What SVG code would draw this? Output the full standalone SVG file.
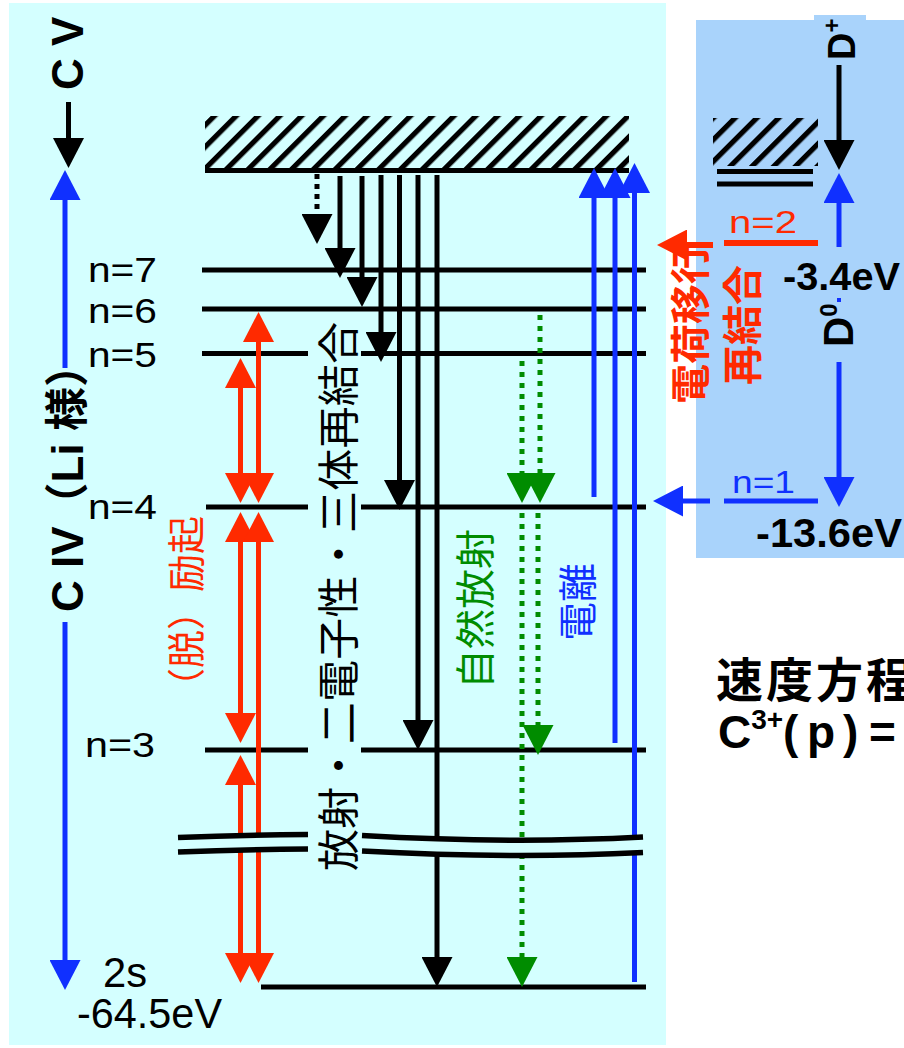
<svg xmlns="http://www.w3.org/2000/svg" width="904" height="1048" viewBox="0 0 904 1048">
<style>
.lv{stroke:#000;stroke-width:5;fill:none}
.brk{stroke:#000;stroke-width:5.5;fill:none}
.k{stroke:#000;stroke-width:5;fill:none;marker-end:url(#ahK)}
.kd{stroke:#000;stroke-width:5;fill:none;stroke-dasharray:5 5;marker-end:url(#ahK)}
.r2{stroke:#FF2A00;stroke-width:5;fill:none;marker-start:url(#ahR);marker-end:url(#ahR)}
.r{stroke:#FF2A00;stroke-width:6;fill:none;marker-end:url(#ahR)}
.b{stroke:#1030FF;stroke-width:5;fill:none;marker-end:url(#ahB)}
.g{stroke:#008C00;stroke-width:5;fill:none;stroke-dasharray:5 6;marker-end:url(#ahG)}
.t{font-family:"Liberation Sans",Arial,"Noto Sans CJK JP",sans-serif}
.j{font-family:"Noto Sans CJK JP","Liberation Sans",sans-serif}
.bd{font-weight:bold}
</style>
<defs>
<pattern id="hatch" width="15.4" height="15.4" patternUnits="userSpaceOnUse" patternTransform="rotate(45)">
<rect width="5.2" height="15.4" fill="#000"/>
</pattern>
<marker id="ahK" viewBox="0 0 30 31" refX="2" refY="15.5" markerWidth="30" markerHeight="31" markerUnits="userSpaceOnUse" orient="auto-start-reverse"><path d="M0,0 L30,15.5 L0,31 Z" fill="#000"/></marker>
<marker id="ahR" viewBox="0 0 30 31" refX="2" refY="15.5" markerWidth="30" markerHeight="31" markerUnits="userSpaceOnUse" orient="auto-start-reverse"><path d="M0,0 L30,15.5 L0,31 Z" fill="#FF2A00"/></marker>
<marker id="ahB" viewBox="0 0 30 31" refX="2" refY="15.5" markerWidth="30" markerHeight="31" markerUnits="userSpaceOnUse" orient="auto-start-reverse"><path d="M0,0 L30,15.5 L0,31 Z" fill="#1030FF"/></marker>
<marker id="ahG" viewBox="0 0 30 31" refX="2" refY="15.5" markerWidth="30" markerHeight="31" markerUnits="userSpaceOnUse" orient="auto-start-reverse"><path d="M0,0 L30,15.5 L0,31 Z" fill="#008C00"/></marker>
</defs>
<rect width="904" height="1048" fill="#fff"/>
<g id="panels">
<rect x="9" y="3" width="657" height="1042" fill="#D4FFFF"/>
<rect x="696" y="20" width="208" height="538" fill="#A9D3FB"/>
<rect x="814" y="15" width="52" height="6" fill="#A9D3FB"/>
</g>
<g id="continuum-CV">
<rect x="205" y="116" width="424" height="52" fill="url(#hatch)"/>
<line class="lv" x1="205" y1="170.5" x2="629" y2="170.5"/>
</g>
<g id="continuum-D">
<rect x="713" y="118" width="105" height="48" fill="url(#hatch)"/>
<line class="lv" x1="717" y1="171.5" x2="813" y2="171.5"/>
<line class="lv" x1="717" y1="184" x2="813" y2="184"/>
</g>
<g id="level-n7">
<line class="lv" x1="202" y1="270" x2="646" y2="270"/>
<text class="t" x="88" y="282" font-size="35" textLength="69" lengthAdjust="spacingAndGlyphs">n=7</text>
</g>
<g id="level-n6">
<line class="lv" x1="202" y1="309" x2="646" y2="309"/>
<text class="t" x="88" y="323" font-size="35" textLength="69" lengthAdjust="spacingAndGlyphs">n=6</text>
</g>
<g id="level-n5">
<line class="lv" x1="202" y1="353.5" x2="308" y2="353.5"/>
<line class="lv" x1="361" y1="353.5" x2="646" y2="353.5"/>
<text class="t" x="88" y="367" font-size="35" textLength="69" lengthAdjust="spacingAndGlyphs">n=5</text>
</g>
<g id="level-n4">
<line class="lv" x1="206" y1="507" x2="308" y2="507"/>
<line class="lv" x1="361" y1="507" x2="646" y2="507"/>
<text class="t" x="88" y="519" font-size="35" textLength="69" lengthAdjust="spacingAndGlyphs">n=4</text>
</g>
<g id="level-n3">
<line class="lv" x1="205" y1="750" x2="308" y2="750"/>
<line class="lv" x1="361" y1="750" x2="646" y2="750"/>
<text class="t" x="85" y="757" font-size="35" textLength="70" lengthAdjust="spacingAndGlyphs">n=3</text>
</g>
<g id="level-2s">
<line class="lv" x1="261" y1="987" x2="646" y2="987"/>
<text class="t" x="103" y="987" font-size="42" textLength="44" lengthAdjust="spacingAndGlyphs">2s</text>
<text class="t" x="77" y="1028" font-size="42" textLength="145" lengthAdjust="spacingAndGlyphs">-64.5eV</text>
</g>
<g id="connectors">
<line class="k" x1="68.5" y1="102" x2="68.5" y2="140"/>
<line class="b" x1="65" y1="368" x2="65" y2="198"/>
<line class="b" x1="65" y1="622" x2="65" y2="962"/>
<line class="kd" x1="317" y1="174" x2="317" y2="216"/>
<line class="k" x1="340" y1="176" x2="340" y2="250"/>
<line class="k" x1="362" y1="176" x2="362" y2="279"/>
<line class="k" x1="381" y1="175" x2="381" y2="334"/>
<line class="k" x1="399.5" y1="175" x2="399.5" y2="482"/>
<line class="k" x1="418" y1="175" x2="418" y2="722"/>
<line class="k" x1="437" y1="175" x2="437" y2="959"/>
<line class="r2" x1="240.5" y1="386" x2="240.5" y2="475"/>
<line class="r2" x1="258.5" y1="340" x2="258.5" y2="475"/>
<line class="r2" x1="240.5" y1="540" x2="240.5" y2="715"/>
<line class="r2" x1="258.5" y1="540" x2="258.5" y2="955"/>
<line class="r2" x1="240.5" y1="783" x2="240.5" y2="955"/>
<line class="g" x1="540" y1="315" x2="540" y2="475"/>
<line class="g" x1="522" y1="361" x2="522" y2="475"/>
<line class="g" x1="538" y1="513" x2="538" y2="727"/>
<line class="g" x1="522" y1="513" x2="522" y2="959"/>
<line class="b" x1="594" y1="497" x2="594" y2="196"/>
<line class="b" x1="615" y1="743" x2="615" y2="196"/>
<line class="b" x1="634.5" y1="982" x2="634.5" y2="191"/>
<line class="k" x1="839" y1="65" x2="839" y2="142"/>
<line class="b" x1="839" y1="247" x2="839" y2="201"/>
<line class="b" x1="839" y1="362" x2="839" y2="479"/>
<rect x="837" y="298" width="4" height="4" fill="#1030FF"/>
<line class="r" x1="713" y1="245" x2="685" y2="245"/>
<line class="b" x1="710" y1="501" x2="681" y2="501"/>
</g>
<g id="break">
<path d="M178,837.5 Q240,835 308,834.5 L308,849 Q240,849.5 178,852 Z" fill="#D4FFFF"/>
<path class="brk" d="M178,837.5 Q240,835 308,834.5"/>
<path class="brk" d="M178,852 Q240,849.5 308,849"/>
<path d="M362,835.5 Q510,844 643,837 L643,852.5 Q510,859 362,851 Z" fill="#D4FFFF"/>
<path class="brk" d="M362,835.5 Q510,844 643,837"/>
<path class="brk" d="M362,851 Q510,859 643,852.5"/>
</g>
<g id="level-D-n2">
<line stroke="#FF2A00" stroke-width="6" x1="724" y1="243" x2="818" y2="243"/>
<text class="t" x="729" y="233" font-size="32" fill="#FF2A00" textLength="68" lengthAdjust="spacingAndGlyphs">n=2</text>
<text class="t bd" x="783" y="290" font-size="38" textLength="117" lengthAdjust="spacingAndGlyphs">-3.4eV</text>
</g>
<g id="level-D-n1">
<line stroke="#1030FF" stroke-width="5" x1="724" y1="501" x2="818" y2="501"/>
<text class="t" x="732" y="493" font-size="32" fill="#1030FF" textLength="63" lengthAdjust="spacingAndGlyphs">n=1</text>
<text class="t bd" x="756" y="547" font-size="40" textLength="146" lengthAdjust="spacingAndGlyphs">-13.6eV</text>
</g>
<g id="labels">
<text class="t bd" font-size="44" transform="translate(83,90) rotate(-90)">C V</text>
<text class="t bd" font-size="44" transform="translate(83,612) rotate(-90)">C IV（Li 様）</text>
<text class="j" font-size="38" fill="#FF2A00" transform="translate(200,706) rotate(-90)">（脱）励起</text>
<text class="j" font-size="42" textLength="549" lengthAdjust="spacing" transform="translate(354,871) rotate(-90)">放射・二電子性・三体再結合</text>
<text class="j" font-size="40" fill="#008C00" transform="translate(490,689) rotate(-90)">自然放射</text>
<text class="j" font-size="39" fill="#1030FF" transform="translate(592,641) rotate(-90)">電離</text>
<text class="j bd" font-size="40" fill="#FF2A00" transform="translate(705,404) rotate(-90)">電荷移行</text>
<text class="j bd" font-size="40" fill="#FF2A00" transform="translate(757,385) rotate(-90)">再結合</text>
<text class="t bd" font-size="38" transform="translate(855,60) rotate(-90)">D<tspan font-size="24" dy="-15">+</tspan></text>
<text class="t bd" font-size="42" transform="translate(853,347) rotate(-90)">D<tspan font-size="24" dy="-16">0</tspan></text>
<text class="j bd" x="716" y="697" font-size="47" letter-spacing="3">速度方程</text>
<text class="t bd" x="718" y="748" font-size="46">C<tspan font-size="28" dy="-19">3+</tspan><tspan dy="19" x="783 807 843 858 869">(p) =</tspan></text>
</g>
</svg>
